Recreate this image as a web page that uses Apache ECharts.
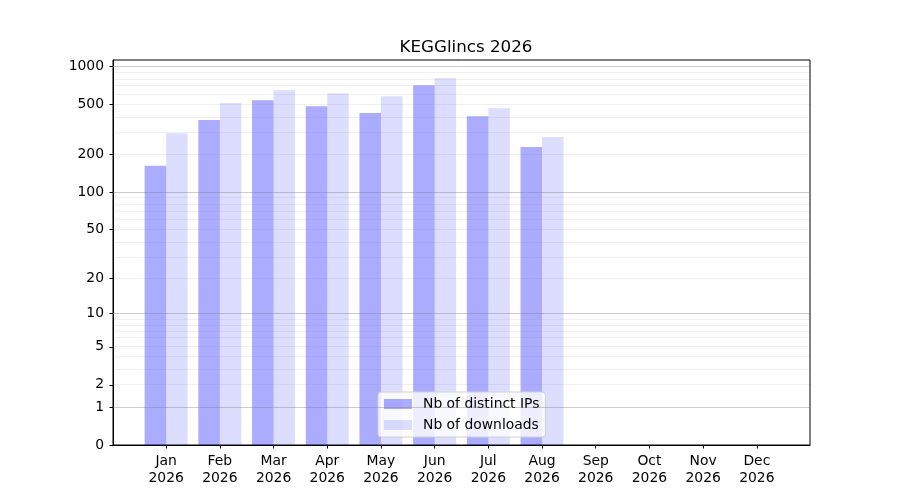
<!DOCTYPE html>
<html>
<head>
<meta charset="utf-8">
<title>KEGGlincs 2026</title>
<script src="https://cdn.jsdelivr.net/npm/echarts@6/dist/echarts.min.js"></script>
<style>
    html, body { margin: 0; padding: 0; background: #fff; }
    #chart { width: 900px; height: 500px; }
</style>
</head>
<body>
<div id="chart"></div>
<script>
    'use strict';

    // Values
    var months = ['Jan', 'Feb', 'Mar', 'Apr', 'May', 'Jun', 'Jul', 'Aug', 'Sep', 'Oct', 'Nov', 'Dec'];
    var year = '2026';
    var distinctIps = [162, 374, 538, 482, 425, 708, 402, 228];
    var downloads = [294, 510, 646, 611, 579, 804, 465, 274];

    // y ticks of the log(1 + x) scale
    var yTicks = [0, 1, 2, 5, 10, 20, 50, 100, 200, 500, 1000];
    var majorGrid = [1, 10, 100, 1000];
    var minorGrid = [2, 3, 4, 5, 6, 7, 8, 9, 20, 30, 40, 50, 60, 70, 80, 90,
                     200, 300, 400, 500, 600, 700, 800, 900];

    var FONT = 'DejaVu Sans';

    function toScale(v) {
        return Math.log10(v + 1);
    }

    function fromScale(s) {
        return Math.round(Math.pow(10, s) - 1);
    }

    function toPoints(values) {
        return values.map(function (v, i) {
            return [i, toScale(v)];
        });
    }

    function gridLines(values, color) {
        return values.map(function (v) {
            return {
                yAxis: toScale(v),
                lineStyle: { color: color, width: 0.8, type: 'solid' }
            };
        });
    }

    var monthIndex = months.map(function (m, i) { return i; });

    var chart = echarts.init(document.getElementById('chart'), null, { renderer: 'canvas' });

    chart.setOption({
        animation: false,
        backgroundColor: '#fff',
        title: {
            text: 'KEGGlincs ' + year,
            left: 461,
            textAlign: 'center',
            top: 34,
            textStyle: { fontFamily: FONT, fontSize: 16.7, fontWeight: 'normal', color: '#000' }
        },
        grid: {
            left: 113,
            right: 90,
            top: 60,
            bottom: 55,
            show: true,
            borderColor: '#000',
            borderWidth: 1
        },
        legend: {
            orient: 'vertical',
            left: 378,
            top: 392,
            itemWidth: 28,
            itemHeight: 10,
            itemGap: 7,
            padding: [5, 6, 5, 6],
            borderColor: '#d0d0d0',
            borderWidth: 1,
            borderRadius: 3,
            backgroundColor: 'rgba(255,255,255,0.8)',
            icon: 'rect',
            textStyle: { fontFamily: FONT, fontSize: 13.9, color: '#000', padding: [0, 0, 0, 6] },
            data: ['Nb of distinct IPs', 'Nb of downloads']
        },
        xAxis: {
            type: 'value',
            min: -0.99,
            max: 11.99,
            splitLine: { show: false },
            axisLine: { show: true, onZero: false, lineStyle: { color: '#000', width: 1 } },
            axisTick: {
                show: true,
                inside: false,
                length: 3.5,
                customValues: monthIndex,
                lineStyle: { color: '#000' }
            },
            axisLabel: {
                customValues: monthIndex,
                margin: 8,
                fontFamily: FONT,
                fontSize: 13.9,
                lineHeight: 17,
                color: '#000',
                formatter: function (v) {
                    return months[Math.round(v)] + '\n' + year;
                }
            }
        },
        yAxis: {
            type: 'value',
            min: 0,
            max: 3.05,
            splitLine: { show: false },
            axisLine: { show: true, onZero: false, lineStyle: { color: '#000', width: 1 } },
            axisTick: {
                show: true,
                inside: false,
                length: 3.5,
                customValues: yTicks.map(toScale),
                lineStyle: { color: '#000' }
            },
            axisLabel: {
                customValues: yTicks.map(toScale),
                margin: 9,
                fontFamily: FONT,
                fontSize: 13.9,
                color: '#000',
                formatter: function (v) {
                    return String(fromScale(v));
                }
            }
        },
        series: [
            {
                name: 'Nb of distinct IPs',
                type: 'bar',
                barWidth: 21.5,
                barGap: '0%',
                itemStyle: { color: 'rgba(0,0,255,0.33)' },
                data: toPoints(distinctIps),
                markLine: {
                    silent: true,
                    symbol: 'none',
                    label: { show: false },
                    data: gridLines(minorGrid, 'rgba(128,128,128,0.15)')
                        .concat(gridLines(majorGrid, 'rgba(128,128,128,0.5)'))
                }
            },
            {
                name: 'Nb of downloads',
                type: 'bar',
                barWidth: 21.5,
                barGap: '0%',
                itemStyle: { color: 'rgba(0,0,255,0.134)' },
                data: toPoints(downloads)
            }
        ]
    });
</script>
</body>
</html>
